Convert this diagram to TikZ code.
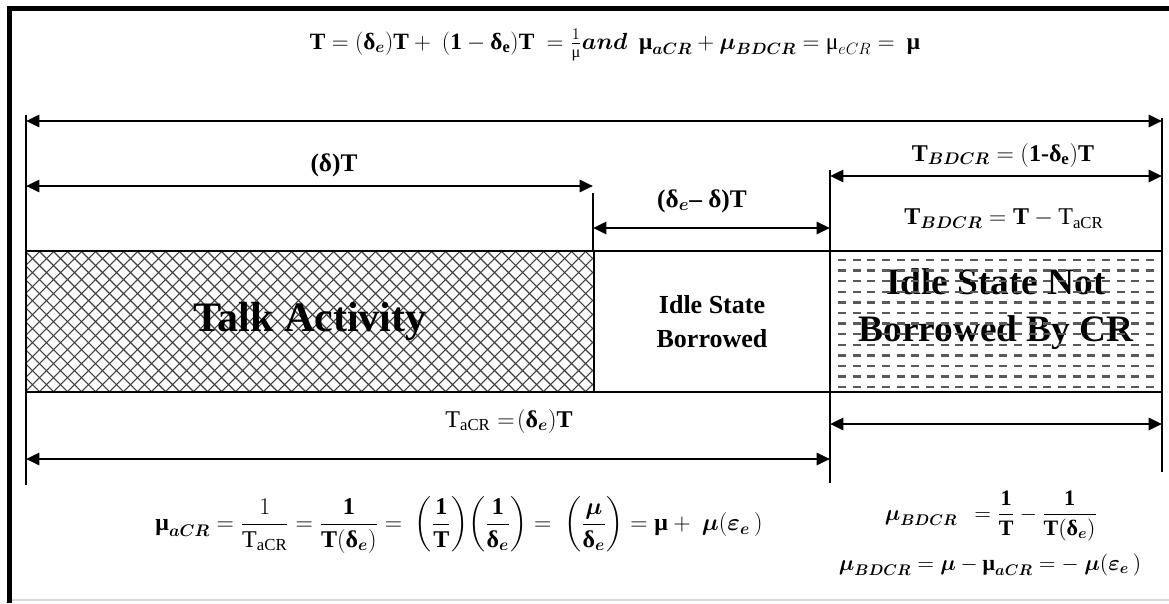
\documentclass[tikz,border=0pt]{standalone}
\usepackage{fix-cm}
\usepackage{amsmath}
\usepackage{fontspec}
\setmainfont{Liberation Serif}
\usetikzlibrary{arrows.meta}
\newcommand{\bmu}{\textbf{μ}}
\newcommand{\bdel}{\textbf{δ}}
\newcommand{\rmu}{\textrm{μ}}
\begin{document}
\begin{tikzpicture}[x=0.75pt,y=-0.75pt,
  dim/.style={line width=2pt, {Triangle[length=10pt,width=9pt]}-{Triangle[length=10pt,width=9pt]}},
  tickline/.style={line width=1.1pt},
  box/.style={draw, line width=1.8pt, inner sep=0pt, outer sep=0pt, minimum height=105.75pt},
  lbl/.style={inner sep=0pt, font=\fontsize{18}{21}\selectfont},
  hatch/.style={line width=0.8pt, black!75},
  dashrow/.style={line width=1.7pt, black!65, dash pattern=on 6pt off 5pt}
]
\useasboundingbox (0,0) rectangle (1169,603);
\fill[white] (0,0) rectangle (1169,603);
% frame
\draw[line width=3.75pt] (9.5,603) -- (9.5,8.5) -- (1169,8.5);
\draw[black!15, line width=1pt] (12,600) -- (1169,600);
% crosshatch
\begin{scope}
\clip (26,251) rectangle (594,392);
\foreach \k in {0,...,64} {
  \draw[hatch] (-115+\k*14,251) -- ++(141,141);
  \draw[hatch] (-115+\k*14,392) -- ++(141,-141);
}
\end{scope}
% boxes
\node[box, minimum width=426pt, font=\fontsize{31.5}{34}\selectfont\bfseries] (talk) at (310,321.5) {Talk Activity};
\node[box, minimum width=177pt, align=center, font=\fontsize{19.5}{26}\selectfont\bfseries] (borr) at (712,321.5) {Idle State\\Borrowed};
\node[box, minimum width=249pt] (notb) at (996,321.5) {};
\node[inner sep=0pt, align=center, font=\fontsize{28}{35}\selectfont\bfseries] (notbtext) at (996,309) {Idle State Not\\Borrowed By CR};
\begin{scope}
\clip (830,251) rectangle (1162,392);
\foreach \r in {0,...,12} {
  \draw[dashrow] (838,260+\r*10.6) -- (1160,260+\r*10.6);
}
\end{scope}
% ticks
\coordinate (L1) at (26,115); \coordinate (L2) at (26,485);
\coordinate (R1) at (1162,118); \coordinate (R2) at (1162,251);
\coordinate (R3) at (1162,392); \coordinate (R4) at (1162,472);
\coordinate (M1) at (593,193); \coordinate (M2) at (593,251);
\coordinate (N1) at (830,170); \coordinate (N2) at (830,251);
\coordinate (N3) at (830,392); \coordinate (N4) at (830,483);
\draw[tickline] (L1) -- (L2);
\draw[tickline] (R1) -- (R2);
\draw[tickline] (R3) -- (R4);
\draw[tickline] (M1) -- (M2);
\draw[tickline] (N1) -- (N2);
\draw[tickline] (N3) -- (N4);
% dimension arrows
\coordinate (a1) at (26,121); \coordinate (a2) at (1162,121);
\coordinate (b1) at (26,186); \coordinate (b2) at (593,186);
\coordinate (c1) at (593,228); \coordinate (c2) at (830,228);
\coordinate (d1) at (830,176); \coordinate (d2) at (1162,176);
\coordinate (e1) at (26,459); \coordinate (e2) at (830,459);
\coordinate (f1) at (830,424); \coordinate (f2) at (1162,424);
\draw[dim] (a1) -- (a2);
\draw[dim] (b1) -- (b2);
\draw[dim] (c1) -- (c2);
\draw[dim] (d1) -- (d2);
\draw[dim] (e1) -- (e2);
\draw[dim] (f1) -- (f2);
% labels
\node[lbl, font=\fontsize{17.5}{21}\selectfont] (topeq) at (615,45) {$\mathbf{T} = (\bdel_{\boldsymbol{e}})\mathbf{T} +\ (\mathbf{1} - \bdel_{\mathbf{e}})\mathbf{T}\ = \frac{1}{\rmu}\boldsymbol{and}\ \ \bmu_{\boldsymbol{aCR}} + \boldsymbol{\mu}_{\boldsymbol{BDCR}} = \rmu_{eCR} = \ \bmu$};
\node[lbl, font=\fontsize{19}{22}\selectfont] (ldelta) at (334,165) {\textbf{(δ)T}};
\node[lbl, font=\fontsize{19}{22}\selectfont] (ldiff) at (702,201) {\textbf{(δ}$_{\boldsymbol{e}}$\textbf{– δ)T}};
\node[lbl] (ltb1) at (1003,155) {$\mathbf{T}_{\boldsymbol{BDCR}} = (\mathbf{1}\textbf{-}\bdel_{\mathbf{e}})\mathbf{T}$};
\node[lbl] (ltb2) at (1004,219) {$\mathbf{T}_{\boldsymbol{BDCR}} = \mathbf{T} - \mathrm{T}_{\mathrm{aCR}}$};
\node[lbl] (ltacr) at (509,421) {$\mathrm{T}_{\mathrm{aCR}} =\!(\bdel_{\boldsymbol{e}})\mathbf{T}$};
\node[lbl] (beq) at (459,525) {$\bmu_{\boldsymbol{aCR}} = \dfrac{1}{\mathrm{T}_{\mathrm{aCR}}} = \dfrac{\mathbf{1}}{\mathbf{T}(\bdel_{\boldsymbol{e}})} = \ \left(\dfrac{\mathbf{1}}{\mathbf{T}}\right)\!\left(\dfrac{\mathbf{1}}{\bdel_{\boldsymbol{e}}}\right) = \ \left(\dfrac{\boldsymbol{\mu}}{\bdel_{\boldsymbol{e}}}\right) = \bmu +\ \boldsymbol{\mu}(\boldsymbol{\varepsilon}_{\boldsymbol{e}}\,)$};
\node[lbl, font=\fontsize{16.5}{19}\selectfont] (req1) at (991,516) {$\boldsymbol{\mu}_{\boldsymbol{BDCR}}\ \ = \dfrac{\mathbf{1}}{\mathbf{T}} - \dfrac{\mathbf{1}}{\mathbf{T}(\bdel_{\boldsymbol{e}})}$};
\node[lbl, font=\fontsize{16.5}{19}\selectfont] (req2) at (990,565) {$\boldsymbol{\mu}_{\boldsymbol{BDCR}} = \boldsymbol{\mu} - \bmu_{\boldsymbol{aCR}} = -\ \boldsymbol{\mu}(\boldsymbol{\varepsilon}_{\boldsymbol{e}}\,)$};
\end{tikzpicture}
\end{document}
